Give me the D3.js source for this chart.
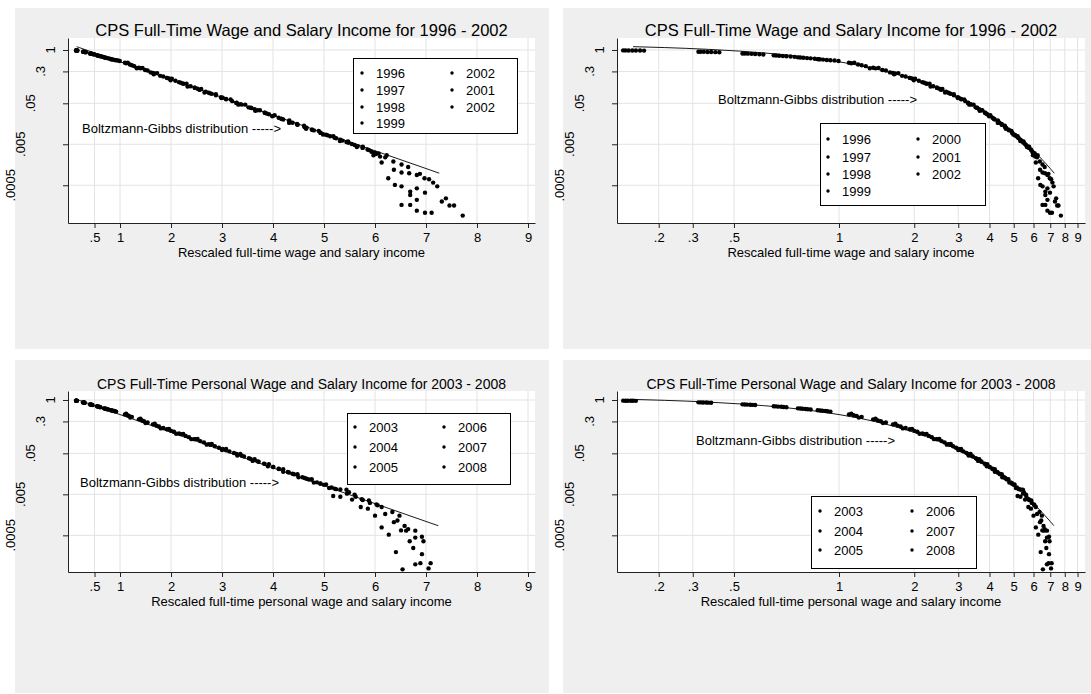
<!DOCTYPE html>
<html lang="en">
<head>
<meta charset="UTF-8">
<title>CPS Full-Time Wage and Salary Income</title>
<script src="https://d3js.org/d3.v7.min.js"></script>
<style>
  body { margin: 0; background: #fff; }
  svg { display: block; font-family: "Liberation Sans", Arial, sans-serif; }
</style>
</head>
<body>
<script>
  // ---- data: [rescaled income, share above] ----
  const s1996 = [[0.166,0.966],[0.332,0.879],[0.498,0.776],[0.664,0.679],[0.83,0.596],[0.996,0.54],[1.328,0.357],[1.66,0.254],[1.992,0.183],[2.324,0.128],[2.656,0.0915],[2.988,0.067],[3.32,0.0464],[3.652,0.033],[3.984,0.024],[4.316,0.0166],[4.648,0.0119],[4.98,0.00865],[5.312,0.00602],[5.644,0.00428],[5.976,0.00305],[6.07,0.003],[6.23,0.0027],[6.36,0.0019],[6.52,0.0016],[6.65,0.0014],[6.82,0.00089],[6.97,0.00074],[7.14,0.00058],[7.22,0.00047],[7.39,0.00024],[7.46,0.00016],[7.72,0.000091]]
  const s1997 = [[0.16,0.968],[0.32,0.885],[0.48,0.787],[0.64,0.692],[0.8,0.61],[0.96,0.552],[1.28,0.403],[1.6,0.284],[1.92,0.209],[2.24,0.151],[2.56,0.106],[2.88,0.0782],[3.2,0.0564],[3.52,0.0398],[3.84,0.0293],[4.16,0.0211],[4.48,0.0149],[4.8,0.0109],[5.12,0.00788],[5.44,0.00568],[5.76,0.00409],[6.1,0.0025],[6.37,0.0012],[6.52,0.00102],[6.67,0.00098],[6.88,0.00095],[7.06,0.0007],[7.31,0.0002],[7.55,0.00016]]
  const s1998 = [[0.154,0.97],[0.308,0.891],[0.462,0.796],[0.616,0.703],[0.77,0.624],[0.924,0.562],[1.232,0.424],[1.54,0.315],[1.848,0.225],[2.156,0.164],[2.464,0.12],[2.772,0.0873],[3.08,0.0624],[3.388,0.0465],[3.696,0.0339],[4.004,0.0247],[4.312,0.0184],[4.62,0.0131],[4.928,0.00959],[5.236,0.007],[5.544,0.0051],[5.852,0.00372],[5.97,0.0027],[6.13,0.0018],[6.26,0.00074],[6.52,0.00047],[6.82,0.00042],[6.98,0.00033]]
  const s1999 = [[0.149,0.972],[0.298,0.895],[0.447,0.804],[0.596,0.713],[0.745,0.634],[0.894,0.571],[1.192,0.441],[1.49,0.325],[1.788,0.234],[2.086,0.177],[2.384,0.13],[2.682,0.0959],[2.98,0.0706],[3.278,0.051],[3.576,0.0384],[3.874,0.0282],[4.172,0.0208],[4.47,0.0156],[4.768,0.0113],[5.066,0.00833],[5.364,0.00614],[5.662,0.00452],[5.93,0.0033],[6.39,0.00051],[6.69,0.00035],[6.82,0.00022],[6.98,0.000107]]
  const s2000 = [[0.144,0.975],[0.288,0.902],[0.432,0.813],[0.576,0.724],[0.72,0.646],[0.864,0.582],[1.152,0.491],[1.44,0.366],[1.728,0.273],[2.016,0.199],[2.304,0.151],[2.592,0.112],[2.88,0.0837],[3.168,0.0623],[3.456,0.0464],[3.744,0.0338],[4.032,0.0257],[4.32,0.0192],[4.608,0.0142],[4.896,0.0106],[5.184,0.0079],[5.472,0.00589],[5.76,0.00439],[6.02,0.0029],[6.69,0.00029],[6.82,0.00012]]
  const s2001 = [[0.14,0.977],[0.28,0.906],[0.42,0.819],[0.56,0.735],[0.7,0.655],[0.84,0.59],[1.12,0.475],[1.4,0.356],[1.68,0.267],[1.96,0.201],[2.24,0.151],[2.52,0.113],[2.8,0.0849],[3.08,0.0637],[3.36,0.0478],[3.64,0.0359],[3.92,0.027],[4.2,0.0202],[4.48,0.0152],[4.76,0.0114],[5.04,0.00855],[5.32,0.00643],[5.6,0.00482],[5.88,0.00361],[6.2,0.0024],[6.52,0.000166],[7.11,0.000107]]
  const s2002 = [[0.137,0.977],[0.274,0.908],[0.411,0.822],[0.548,0.74],[0.685,0.661],[0.822,0.598],[1.096,0.486],[1.37,0.367],[1.644,0.277],[1.918,0.209],[2.192,0.158],[2.466,0.12],[2.74,0.0904],[3.014,0.0682],[3.288,0.0515],[3.562,0.0389],[3.836,0.0294],[4.11,0.0222],[4.384,0.0167],[4.658,0.0127],[4.932,0.00955],[5.206,0.00721],[5.48,0.00545],[5.754,0.00411],[6.0,0.0031],[6.69,0.000166]]

  const s2003 = [[0.154,0.953],[0.308,0.855],[0.462,0.752],[0.616,0.667],[0.77,0.586],[0.924,0.521],[1.232,0.387],[1.54,0.283],[1.848,0.207],[2.156,0.152],[2.464,0.111],[2.772,0.0813],[3.08,0.0596],[3.388,0.0436],[3.696,0.0319],[4.004,0.0233],[4.312,0.0171],[4.62,0.0125],[4.928,0.00916],[5.236,0.0067],[5.44,0.00646],[5.62,0.00437],[5.9,0.00309],[6.03,0.00282],[6.34,0.00186],[6.48,0.00151],[6.58,0.00085],[6.65,0.00071],[6.79,0.00065],[6.92,0.00046],[6.95,0.00036],[7.09,0.000105]]
  const s2004 = [[0.15,0.955],[0.3,0.861],[0.45,0.759],[0.6,0.676],[0.75,0.596],[0.9,0.531],[1.2,0.372],[1.5,0.274],[1.8,0.203],[2.1,0.15],[2.4,0.111],[2.7,0.0814],[3.0,0.0601],[3.3,0.0443],[3.6,0.0327],[3.9,0.0241],[4.2,0.0178],[4.5,0.0131],[4.8,0.00967],[5.1,0.00715],[5.49,0.00562],[5.76,0.00363],[6.13,0.00245],[6.2,0.00166],[6.44,0.00115],[6.51,0.00066],[6.61,0.00065],[6.79,0.00044],[6.92,0.000174],[7.05,0.000078]]
  const s2005 = [[0.147,0.957],[0.294,0.865],[0.441,0.764],[0.588,0.682],[0.735,0.603],[0.882,0.537],[1.176,0.41],[1.47,0.304],[1.764,0.226],[2.058,0.168],[2.352,0.124],[2.646,0.0925],[2.94,0.0686],[3.234,0.0509],[3.528,0.0378],[3.822,0.0281],[4.116,0.0208],[4.41,0.0155],[4.704,0.0115],[4.998,0.00853],[5.18,0.00457],[5.55,0.00372],[5.72,0.00245],[6.0,0.00151],[6.37,0.00105],[6.68,0.00036],[6.75,0.000245],[6.89,0.000105]]
  const s2006 = [[0.143,0.959],[0.286,0.869],[0.429,0.771],[0.572,0.69],[0.715,0.611],[0.858,0.547],[1.144,0.424],[1.43,0.317],[1.716,0.237],[2.002,0.177],[2.288,0.133],[2.574,0.0993],[2.86,0.0744],[3.146,0.0557],[3.432,0.0417],[3.718,0.0312],[4.004,0.0233],[4.29,0.0175],[4.576,0.0131],[4.862,0.0098],[5.148,0.00733],[5.32,0.00437],[5.86,0.00224],[6.13,0.00078],[6.27,0.00052],[6.41,0.000195],[6.79,0.000098]]
  const s2007 = [[0.14,0.962],[0.28,0.873],[0.42,0.776],[0.56,0.697],[0.7,0.618],[0.84,0.555],[1.12,0.464],[1.4,0.35],[1.68,0.263],[1.96,0.198],[2.24,0.149],[2.52,0.112],[2.8,0.0846],[3.08,0.0638],[3.36,0.048],[3.64,0.0361],[3.92,0.0272],[4.2,0.0204],[4.48,0.0154],[4.76,0.0117],[5.04,0.00874],[5.32,0.00658],[5.6,0.00492],[5.88,0.00353],[6.54,0.000074]]
  const s2008 = [[0.137,0.964],[0.274,0.877],[0.411,0.782],[0.548,0.703],[0.685,0.625],[0.822,0.562],[1.096,0.445],[1.37,0.337],[1.644,0.255],[1.918,0.193],[2.192,0.147],[2.466,0.111],[2.74,0.084],[3.014,0.0637],[3.288,0.0482],[3.562,0.0366],[3.836,0.0277],[4.11,0.021],[4.384,0.0159],[4.658,0.012],[4.932,0.00912],[5.206,0.0069],[5.45,0.0052],[5.74,0.0038],[6.05,0.0027]]

  // Boltzmann-Gibbs reference line, read at a few points
  const bgTop = [[0.15,1.205],[0.2,1.146],[0.3,1.037],[0.4,0.938],[0.5,0.849],[0.7,0.695],[1,0.515],[1.5,0.312],[2,0.189],[2.5,0.115],[3,0.0697],[4,0.0256],[5,0.00943],[6,0.00347],[7,0.00128],[7.26,0.000984]]
  const bgBottom = [[0.15,1.033],[0.2,0.982],[0.3,0.889],[0.4,0.804],[0.5,0.728],[0.7,0.596],[1,0.441],[1.5,0.268],[2,0.162],[2.5,0.0985],[3,0.0597],[4,0.022],[5,0.00809],[6,0.00297],[7,0.00109],[7.24,0.00086]]

  const seriesTop = [s1996, s1997, s1998, s1999, s2000, s2001, s2002]
  const seriesBottom = [s2003, s2004, s2005, s2006, s2007, s2008]

  const legendTopLeft = ["1996", "1997", "1998", "1999", "2002", "2001", "2002"]
  const legendTopRight = ["1996", "1997", "1998", "1999", "2000", "2001", "2002"]
  const legendBottom = ["2003", "2004", "2005", "2006", "2007", "2008"]

  const yTicks = [1, 0.3, 0.05, 0.005, 0.0005]
  const yTickLabels = ["1", ".3", ".05", ".005", ".0005"]
  const xTicksLin = [0.5, 1, 2, 3, 4, 5, 6, 7, 8, 9]
  const xTickLabelsLin = [".5", "1", "2", "3", "4", "5", "6", "7", "8", "9"]
  // the log panels put their ".3" and ".5" marks left of where a log axis would
  const xTicksLog = [0.19, 0.26, 0.38, 1, 2, 3, 4, 5, 6, 7, 8, 9]
  const xTickLabelsLog = [".2", ".3", ".5", "1", "2", "3", "4", "5", "6", "7", "8", "9"]

  const titleTop = "CPS Full-Time Wage and Salary Income for 1996 - 2002"
  const titleBottom = "CPS Full-Time Personal Wage and Salary Income for 2003 - 2008"
  const xTitleTop = "Rescaled full-time wage and salary income"
  const xTitleBottom = "Rescaled full-time personal wage and salary income"
  const bgLabel = "Boltzmann-Gibbs distribution ----->"

  // ---- layout ----
  const svg = d3.select("body").append("svg")
    .attr("width", 1091).attr("height", 694)

  const panels = [
    {box: [15, 8, 534, 341], plot: [68, 38, 535, 223], yDom: [6.0e-5, 1.96], log: false,
     title: titleTop, titleSize: 16.5, xTitle: xTitleTop, series: seriesTop, line: bgTop,
     legend: {box: [353, 58, 517, 133], rows: [73, 90, 107, 123], cols: [362, 452], labels: legendTopLeft},
     note: [82, 133]},
    {box: [563, 8, 534, 341], plot: [617, 38, 1085, 223], yDom: [6.0e-5, 1.96], log: true,
     title: titleTop, titleSize: 16.5, xTitle: xTitleTop, series: seriesTop, line: bgTop,
     legend: {box: [820, 123, 985, 205], rows: [139, 157, 174, 191], cols: [828, 918], labels: legendTopRight},
     note: [718, 104]},
    {box: [15, 360, 534, 333], plot: [68, 391, 535, 572], yDom: [6.38e-5, 1.657], log: false,
     title: titleBottom, titleSize: 14, xTitle: xTitleBottom, series: seriesBottom, line: bgBottom,
     legend: {box: [347, 413, 510, 484], rows: [427, 447, 467], cols: [355, 444], labels: legendBottom},
     note: [80, 487]},
    {box: [563, 360, 534, 333], plot: [617, 391, 1085, 572], yDom: [6.38e-5, 1.657], log: true,
     title: titleBottom, titleSize: 14, xTitle: xTitleBottom, series: seriesBottom, line: bgBottom,
     legend: {box: [811, 496, 976, 568], rows: [511, 531, 550], cols: [820, 912], labels: legendBottom},
     note: [696, 445]}
  ]

  function drawPanel(p) {
    const [l, t, r, b] = p.plot
    const g = svg.append("g")

    g.append("rect")
      .attr("x", p.box[0]).attr("y", p.box[1])
      .attr("width", p.box[2]).attr("height", p.box[3])
      .attr("fill", "#efefef")
    g.append("rect")
      .attr("x", l).attr("y", t).attr("width", r - l).attr("height", b - t)
      .attr("fill", "#fff")

    const x = p.log
      ? d3.scaleLog().domain([0.1294, 9.64]).range([l, r])
      : d3.scaleLinear().domain([-0.02, 9.137]).range([l, r])
    const y = d3.scaleLog().domain(p.yDom).range([b, t])
    const xt = p.log ? xTicksLog : xTicksLin
    const xl = p.log ? xTickLabelsLog : xTickLabelsLin

    // grid
    g.selectAll(".gx").data(xt).enter().append("line")
      .attr("x1", d => x(d)).attr("x2", d => x(d))
      .attr("y1", t).attr("y2", b)
      .attr("stroke", "#e3e3e3")
    g.selectAll(".gy").data(yTicks).enter().append("line")
      .attr("x1", l).attr("x2", r)
      .attr("y1", d => y(d)).attr("y2", d => y(d))
      .attr("stroke", "#e3e3e3")

    // axes
    const ax = g.append("g").attr("transform", "translate(0," + b + ")")
      .call(d3.axisBottom(x).tickValues(xt).tickFormat((d, i) => xl[i])
        .tickSize(5).tickSizeOuter(0).tickPadding(4.8))
    ax.selectAll("text").attr("font-size", 13).attr("fill", "#000")
      .attr("font-family", "Liberation Sans, Arial, sans-serif")
    ax.selectAll("line, path").attr("stroke", "#222")

    const ay = g.append("g").attr("transform", "translate(" + l + ",0)")
      .call(d3.axisLeft(y).tickValues(yTicks).tickFormat("").tickSize(5).tickSizeOuter(0))
    ay.selectAll("line, path").attr("stroke", "#222")

    g.selectAll(".ylab").data(yTicks).enter().append("text")
      .attr("transform", (d, i) => "translate(" + (l - 13 - 10 * (yTickLabels[i].length - 1)) + "," + y(d) + ") rotate(-90)")
      .attr("text-anchor", "middle")
      .attr("font-size", 13)
      .text((d, i) => yTickLabels[i])

    // titles
    const cx = (l + r) / 2
    g.append("text").attr("x", cx).attr("y", t - 2)
      .attr("text-anchor", "middle").attr("font-size", p.titleSize).text(p.title)
    g.append("text").attr("x", cx).attr("y", b + 34)
      .attr("text-anchor", "middle").attr("font-size", 13).text(p.xTitle)

    // Boltzmann-Gibbs line and dots
    g.append("path").datum(p.line)
      .attr("fill", "none").attr("stroke", "#000").attr("stroke-width", 0.9)
      .attr("d", d3.line().x(d => x(d[0])).y(d => y(d[1])).curve(d3.curveMonotoneX))

    p.series.forEach(s => {
      g.selectAll(null).data(s).enter().append("circle")
        .attr("cx", d => x(d[0])).attr("cy", d => y(d[1]))
        .attr("r", 2.2).attr("fill", "#000")
    })

    g.append("text").attr("x", p.note[0]).attr("y", p.note[1])
      .attr("font-size", 13).text(bgLabel)

    // legend
    const L = p.legend
    g.append("rect")
      .attr("x", L.box[0] + 0.5).attr("y", L.box[1] + 0.5)
      .attr("width", L.box[2] - L.box[0]).attr("height", L.box[3] - L.box[1])
      .attr("fill", "#fff").attr("stroke", "#000")
    const nRows = L.rows.length
    L.labels.forEach((lab, i) => {
      const col = Math.floor(i / nRows), row = i % nRows
      const lx = L.cols[col], ly = L.rows[row]
      g.append("circle").attr("cx", lx).attr("cy", ly).attr("r", 1.7).attr("fill", "#000")
      g.append("text").attr("x", lx + 14).attr("y", ly + 4.6)
        .attr("font-size", 13).text(lab)
    })
  }

  panels.forEach(drawPanel)
</script>
</body>
</html>
